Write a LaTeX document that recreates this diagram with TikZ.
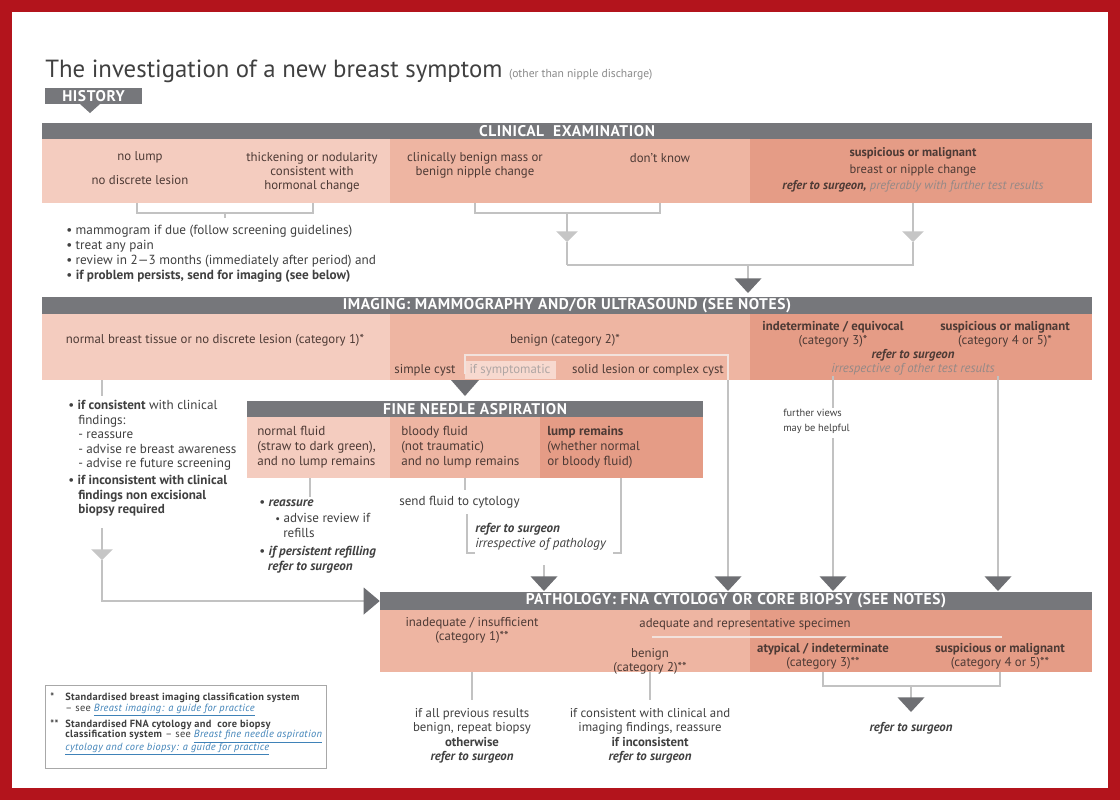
\documentclass[tikz,border=0pt]{standalone}
\usepackage{fontspec}
\setmainfont{PT Sans}
\newfontfamily\hdrfont{PT Sans}[LetterSpace=4]
\usetikzlibrary{arrows.meta}
\definecolor{framecol}{HTML}{B3141C}
\definecolor{hdr}{HTML}{76777B}
\definecolor{cA}{HTML}{F4CCBF}
\definecolor{cB}{HTML}{EEB5A2}
\definecolor{cC}{HTML}{E59C86}
\definecolor{cL}{HTML}{F7D9CF}
\definecolor{celltxt}{HTML}{4D3A35}
\definecolor{notecol}{HTML}{404040}
\definecolor{subcol}{HTML}{8A8A8A}
\definecolor{lncol}{HTML}{C2C2C2}
\definecolor{flncol}{HTML}{F2E2DC}
\definecolor{arr}{HTML}{6E6F73}
\definecolor{larr}{HTML}{C6C6C6}
\definecolor{linkcol}{HTML}{3F82B8}
\definecolor{boxcol}{HTML}{A8A8A8}
\newcommand\fnlink[1]{{\color{linkcol}\underline{#1}}}
\tikzset{
 celltext/.style={font=\fontsize{9.6}{10.6}\selectfont, text=celltxt, align=center, inner sep=0pt},
 notetxt/.style={font=\fontsize{9.6}{11.2}\selectfont, text=notecol, align=left, inner sep=0pt, anchor=north west},
 hdrbar/.style={fill=hdr, text=white, font=\hdrfont\bfseries\fontsize{11.6}{12}\selectfont, inner sep=0pt, minimum height=12.5pt},
 conn/.style={draw=lncol, line width=1.2pt},
 fconn/.style={draw=flncol, line width=1.2pt},
 dtip/.style={-{Triangle[color=arr,width=20pt,length=11pt]}},
 ltip/.style={-{Triangle[color=larr,width=16pt,length=8pt]}},
}
\begin{document}
\begin{tikzpicture}[x=0.75pt,y=-0.75pt]
\useasboundingbox (0,0) rectangle (1120,800);
\fill[framecol] (0,0) rectangle (1120,800);
\fill[white] (12,12) rectangle (1108,788);

% title
\node[anchor=base west, inner sep=0pt, text=black!75] (title) at (45,77)
  {\fontsize{18.6}{20}\selectfont The investigation of a new breast symptom {\fontsize{8.7}{10}\selectfont\color{subcol}(other than nipple discharge)}};
\node[hdrbar, minimum width=72.75pt, minimum height=12pt] (history) at (93.5,96) {HISTORY};
\fill[hdr] (80,104) -- (100,104) -- (90,113) -- cycle;

% clinical examination
\node[hdrbar] (clin) at (567,131) [minimum width=787.5pt, minimum height=12pt] {CLINICAL\ \ EXAMINATION};
\fill[cA] (42,139) rectangle (390,203);
\fill[cB] (390,139) rectangle (750,203);
\fill[cC] (750,139) rectangle (1092,203);
\node[celltext] (nolump) at (140,157) {no lump};
\node[celltext] (nodisc) at (140,180) {no discrete lesion};
\node[celltext] (thick) at (312,172) {thickening or nodularity\\consistent with\\hormonal change};
\node[celltext] (cbm) at (475,165) {clinically benign mass or\\benign nipple change};
\node[celltext] (dk) at (660,158) {don’t know};
\node[celltext, font=\fontsize{9.4}{12.6}\selectfont] (csus) at (913,170)
  {\textbf{suspicious or malignant}\\breast or nipple change\\\textbf{\textit{refer to surgeon,}} {\itshape\color{celltxt!60}preferably with further test results}};

\coordinate (a1) at (137,203); \coordinate (a2) at (313,203); \coordinate (am) at (225,213);
\draw[conn] (a1) -- ++(0,10) -| (a2);
\draw[conn] (am) -- ++(0,5);
\coordinate (b1) at (475,203); \coordinate (b2) at (660,203);
\coordinate (bm) at (567,213); \coordinate (bt) at (567,242); \coordinate (bj) at (567,265);
\draw[conn] (b1) -- ++(0,10) -| (b2);
\draw[conn,ltip] (bm) -- (bt);
\draw[conn] (bt) -- (bj);
\coordinate (s1) at (913,203); \coordinate (st) at (913,242); \coordinate (sj) at (913,265);
\draw[conn,ltip] (s1) -- (st);
\draw[conn] (st) -- (sj) -- (bj);
\coordinate (jm) at (748,265);
\draw[conn,dtip] (jm) -- (748,293);

\node[notetxt, font=\fontsize{9.9}{11.2}\selectfont] (cnotes) at (66,225)
 {\textbullet\ mammogram if due (follow screening guidelines)\\
  \textbullet\ treat any pain\\
  \textbullet\ review in 2—3 months (immediately after period) and\\
  \textbullet\ \textbf{if problem persists, send for imaging (see below)}};

% imaging
\node[hdrbar] (imag) at (567,305.5) [minimum width=787.5pt, minimum height=12.75pt] {IMAGING: MAMMOGRAPHY AND/OR ULTRASOUND (SEE NOTES)};
\fill[cA] (42,314) rectangle (390,380);
\fill[cB] (390,314) rectangle (750,380);
\fill[cC] (750,314) rectangle (1092,380);
\fill[cL] (465,361) rectangle (556,379);
\node[celltext] (inorm) at (215,340) {normal breast tissue or no discrete lesion (category 1)*};
\node[celltext] (iben) at (565,340) {benign (category 2)*};
\node[celltext] (scyst) at (425,370) {simple cyst};
\node[celltext, text=celltxt!45] (ifsym) at (510,370) {if symptomatic};
\node[celltext] (solid) at (648,370) {solid lesion or complex cyst};
\node[celltext] (iind) at (833,334) {\textbf{indeterminate / equivocal}\\(category 3)*};
\node[celltext] (isus) at (1005,334) {\textbf{suspicious or malignant}\\(category 4 or 5)*};
\node[celltext] (iref) at (913,355) {\textbf{\textit{refer to surgeon}}};
\node[celltext, text=celltxt!60] (iirr) at (913,369) {\textit{irrespective of other test results}};

\coordinate (c1) at (465,374); \coordinate (c2) at (465,355); \coordinate (c3) at (728,355); \coordinate (c4) at (728,380);
\draw[fconn] (c1) -- (c2) -- (c3) -- (c4);
\draw[conn,dtip] (c4) -- (728,591);
\fill[arr] (451,380) -- (479,380) -- (465,396) -- cycle;

\coordinate (r1) at (833,376); \coordinate (r2) at (833,408); \coordinate (r3) at (833,438);
\draw[conn] (r1) -- (r2);
\node[notetxt, font=\fontsize{7.8}{11}\selectfont] (fviews) at (783,409) {further views\\may be helpful};
\draw[conn,dtip] (r3) -- (833,591);
\coordinate (q1) at (998,376);
\draw[conn,dtip] (q1) -- (998,591);

\coordinate (n1) at (102,380); \coordinate (n2) at (102,396);
\draw[conn] (n1) -- (n2);
\node[notetxt, font=\fontsize{9.8}{10.9}\selectfont] (inotes) at (68,400)
 {\textbullet\ \textbf{if consistent} with clinical\\
  \hspace*{7.5pt}findings:\\
  \hspace*{7.5pt}- reassure\\
  \hspace*{7.5pt}- advise re breast awareness\\
  \hspace*{7.5pt}- advise re future screening\\[2pt]
  \textbullet\ \textbf{if inconsistent with clinical}\\
  \hspace*{7.5pt}\textbf{findings non excisional}\\
  \hspace*{7.5pt}\textbf{biopsy required}};
\coordinate (n3) at (102,528); \coordinate (n4) at (102,560); \coordinate (n5) at (102,601);

% FNA
\node[hdrbar] (fna) at (475,409) [minimum width=342pt, minimum height=12pt] {FINE NEEDLE ASPIRATION};
\fill[cA] (247,417) rectangle (390,478);
\fill[cB] (390,417) rectangle (540,478);
\fill[cC] (540,417) rectangle (703,478);
\node[celltext, align=left, font=\fontsize{9.8}{11.2}\selectfont, anchor=north west] (fnorm) at (257,426) {normal fluid\\(straw to dark green),\\and no lump remains};
\node[celltext, align=left, font=\fontsize{9.8}{11.2}\selectfont, anchor=north west] (fblood) at (401,426) {bloody fluid\\(not traumatic)\\and no lump remains};
\node[celltext, align=left, font=\fontsize{9.8}{11.2}\selectfont, anchor=north west] (flump) at (547,426) {\textbf{lump remains}\\(whether normal\\or bloody fluid)};

\coordinate (f1) at (310,478);
\draw[conn] (f1) -- (310,497);
\node[notetxt, font=\fontsize{9.8}{11.4}\selectfont] (fnotes) at (259,500)
 {\textbullet\ \textbf{\textit{reassure}}\\
  \hspace*{12pt}{\footnotesize\textbullet}\ advise review if\\
  \hspace*{18pt}refills\\[2pt]
  \textbullet\ \textbf{\textit{if persistent refilling}}\\
  \hspace*{6.5pt}\textbf{\textit{refer to surgeon}}};
\coordinate (g1) at (465,478);
\draw[conn] (g1) -- (465,490);
\node[notetxt, font=\fontsize{9.8}{11.4}\selectfont] (cyto) at (399,496) {send fluid to cytology};
\node[notetxt, font=\fontsize{9.8}{11.2}\selectfont] (fref) at (475,523) {\textbf{\textit{refer to surgeon}}\\\textit{irrespective of pathology}};
\coordinate (g2) at (467,514); \coordinate (h1) at (621,478);
\draw[conn] (g2) -- (467,553) -- ++(8,0);
\draw[conn] (h1) -- (621,553) -- ++(-8,0);
\coordinate (m1) at (544,565);
\draw[conn,dtip] (m1) -- (544,591);

% pathology
\node[hdrbar] (path) at (736,601) [minimum width=534pt, minimum height=13.5pt] {PATHOLOGY: FNA CYTOLOGY OR CORE BIOPSY (SEE NOTES)};
\fill[cB] (380,610) rectangle (750,672);
\fill[cC] (750,610) rectangle (1092,672);
\draw[conn,ltip] (n3) -- (n4);
\draw[conn,-{Triangle[color=arr,width=20pt,length=12pt]}] (n4) -- (n5) -- (path.west);

\node[celltext] (pinad) at (472,630) {inadequate / insufficient\\(category 1)**};
\node[celltext] (padeq) at (745,624) {adequate and representative specimen};
\draw[fconn] (652,637) -- (1002,637);
\node[celltext] (pben) at (650,661) {benign\\(category 2)**};
\node[celltext] (patyp) at (823,656) {\textbf{atypical / indeterminate}\\(category 3)**};
\node[celltext] (psus) at (1000,656) {\textbf{suspicious or malignant}\\(category 4 or 5)**};

\coordinate (p1) at (472,672); \coordinate (p2) at (650,672);
\draw[conn] (p1) -- (472,700);
\draw[conn] (p2) -- (650,700);
\coordinate (p3) at (823,672); \coordinate (p4) at (1000,672); \coordinate (p5) at (911,686);
\draw[conn] (p3) -- ++(0,14) -| (p4);
\draw[conn,dtip] (p5) -- (911,712);
\node[celltext, text=notecol, font=\fontsize{9.6}{10.9}\selectfont] (pres1) at (472,736)
  {if all previous results\\benign, repeat biopsy\\\textbf{otherwise}\\\textbf{\textit{refer to surgeon}}};
\node[celltext, text=notecol, font=\fontsize{9.6}{10.9}\selectfont] (pres2) at (650,736)
  {if consistent with clinical and\\imaging findings, reassure\\\textbf{if inconsistent}\\\textbf{\textit{refer to surgeon}}};
\node[celltext, text=notecol] (pres3) at (911,728) {\textbf{\textit{refer to surgeon}}};

% footnote box
\draw[boxcol, line width=0.6pt] (45,685) rectangle (326,768);
\node[anchor=north west, inner sep=0pt, text=notecol, font=\addfontfeature{LetterSpace=3}\fontsize{7.8}{7.8}\selectfont] (fn) at (50,693)
 {\renewcommand\arraystretch{1.0}\begin{tabular}{@{}l@{\hspace{5pt}}l@{}}
  \textbf{*} & \textbf{Standardised breast imaging classification system}\\
   & -- see \fnlink{\textit{Breast imaging: a guide for practice}}\\[4pt]
  \textbf{**} & \textbf{Standardised FNA cytology and\ \ core biopsy}\\
   & \textbf{classification system} -- see \fnlink{\textit{Breast fine needle aspiration}}\\
   & \fnlink{\textit{cytology and core biopsy: a guide for practice}}
 \end{tabular}};
\end{tikzpicture}
\end{document}
